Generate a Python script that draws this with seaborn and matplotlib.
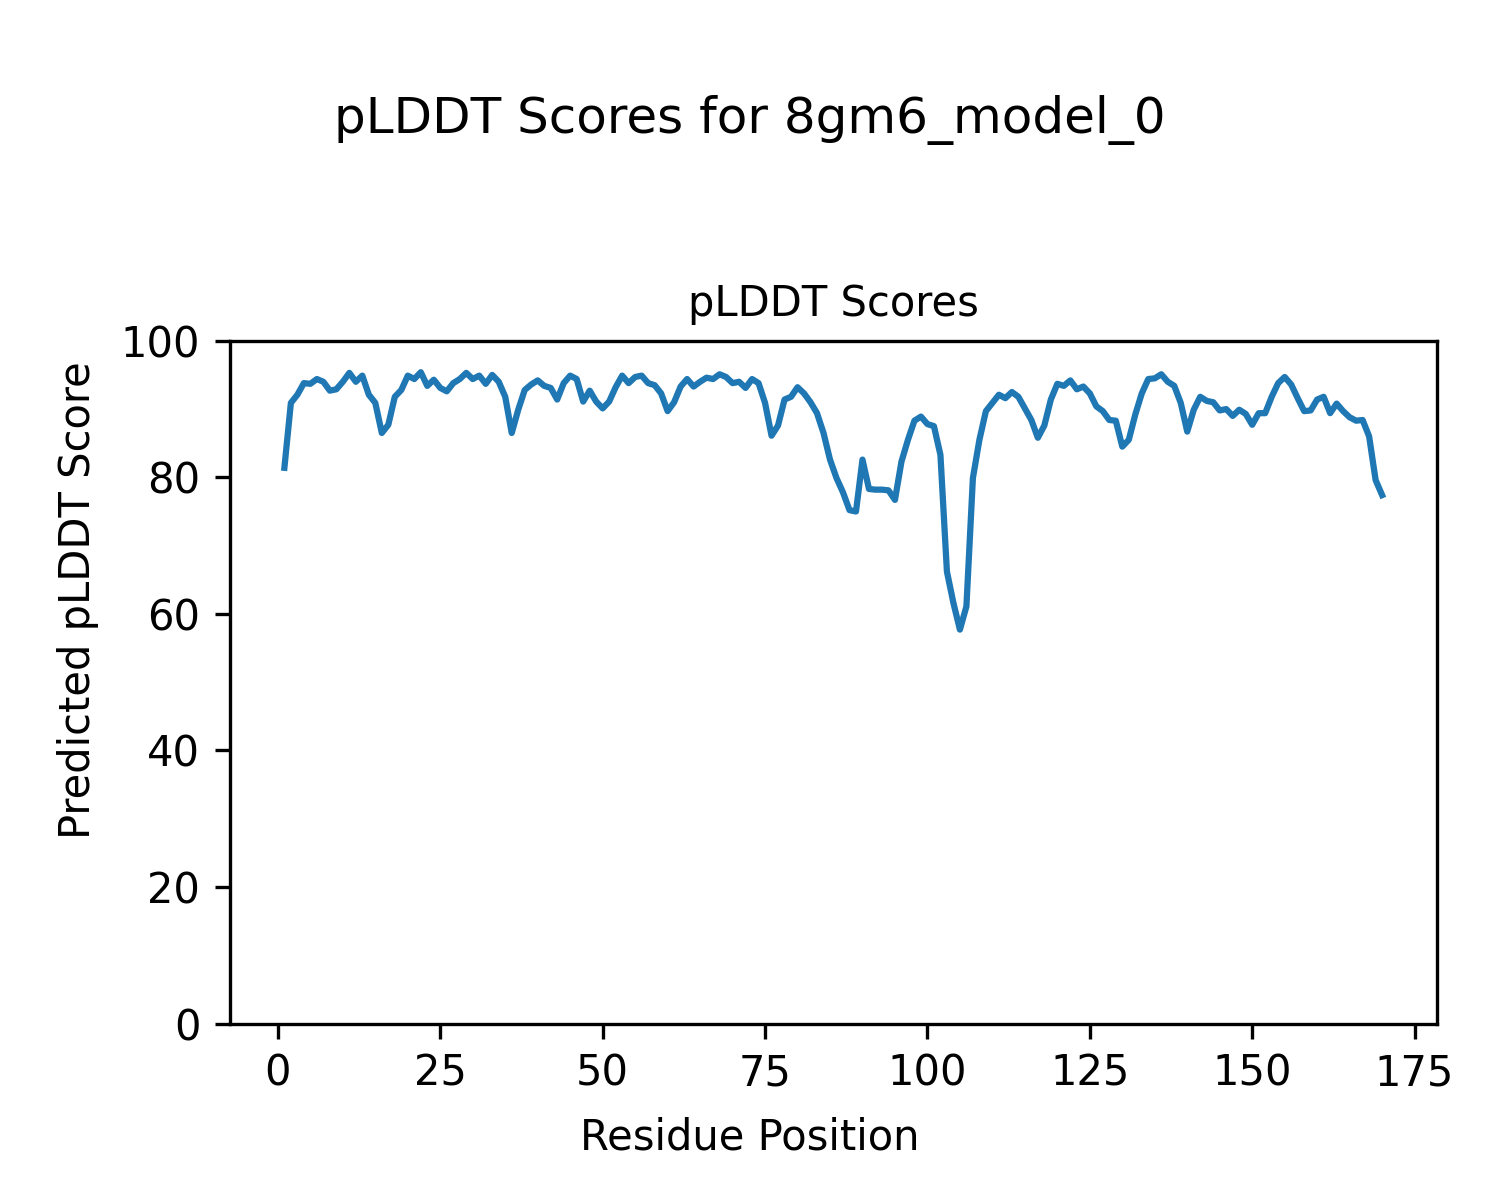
import numpy as np
import pandas as pd
import matplotlib
matplotlib.use("Agg")
import matplotlib.pyplot as plt
import seaborn as sns

model_name = "8gm6_model_0"

# pLDDT per residue (residues 1..170)
plddt = [
    81.4, 90.9, 92.1, 93.8, 93.7, 94.4, 94.0, 92.7, 92.9, 94.0,
    95.3, 94.0, 94.9, 92.1, 90.9, 86.5, 87.7, 91.8, 92.8, 94.9,
    94.4, 95.4, 93.4, 94.3, 93.1, 92.6, 93.8, 94.4, 95.3, 94.4,
    94.9, 93.7, 95.0, 94.0, 91.8, 86.5, 89.9, 92.8, 93.6, 94.2,
    93.4, 93.1, 91.4, 93.8, 94.9, 94.4, 91.1, 92.7, 91.1, 90.1,
    91.1, 93.2, 94.9, 93.8, 94.7, 94.9, 93.8, 93.5, 92.3, 89.7,
    91.0, 93.3, 94.4, 93.3, 94.0, 94.6, 94.4, 95.1, 94.7, 93.8,
    94.0, 93.1, 94.4, 93.8, 90.9, 86.1, 87.6, 91.4, 91.8, 93.2,
    92.3, 91.0, 89.4, 86.5, 82.6, 79.9, 77.8, 75.2, 75.0, 82.6,
    78.3, 78.2, 78.2, 78.1, 76.7, 82.3, 85.5, 88.3, 88.9, 87.8,
    87.5, 83.3, 66.2, 61.6, 57.7, 61.1, 79.9, 85.5, 89.7, 90.9,
    92.1, 91.6, 92.5, 91.8, 90.1, 88.4, 85.8, 87.6, 91.4, 93.7,
    93.4, 94.2, 92.9, 93.3, 92.3, 90.4, 89.7, 88.4, 88.3, 84.5,
    85.5, 89.2, 92.3, 94.4, 94.5, 95.1, 94.0, 93.4, 90.9, 86.7,
    89.9, 91.8, 91.2, 91.0, 89.8, 90.0, 89.0, 89.9, 89.3, 87.7,
    89.4, 89.4, 91.8, 93.8, 94.7, 93.6, 91.6, 89.7, 89.8, 91.4,
    91.8, 89.4, 90.8, 89.7, 88.8, 88.3, 88.4, 86.0, 79.6, 77.4,
]
residues = list(range(1, len(plddt) + 1))

df = pd.DataFrame({"Residue Position": residues, "pLDDT": plddt})

fig, ax = plt.subplots(figsize=(5, 4), dpi=300)
sns.lineplot(data=df, x="Residue Position", y="pLDDT", ax=ax, color="#1f77b4", linewidth=1.5)
ax.set_ylim(0, 100)
ax.set_title("pLDDT Scores", fontsize=10)
ax.set_xlabel("")
ax.set_ylabel("")
# figure-level labels, centred on the whole figure like the original
fig.supxlabel("Residue Position", fontsize=10, y=0.052, va="center")
fig.supylabel("Predicted pLDDT Score", fontsize=10, x=0.052, ha="center")
fig.suptitle(f"pLDDT Scores for {model_name}", fontsize=12, y=0.921)
fig.subplots_adjust(left=0.153, right=0.958, bottom=0.147, top=0.716)
fig.savefig("out.png", dpi=300)
